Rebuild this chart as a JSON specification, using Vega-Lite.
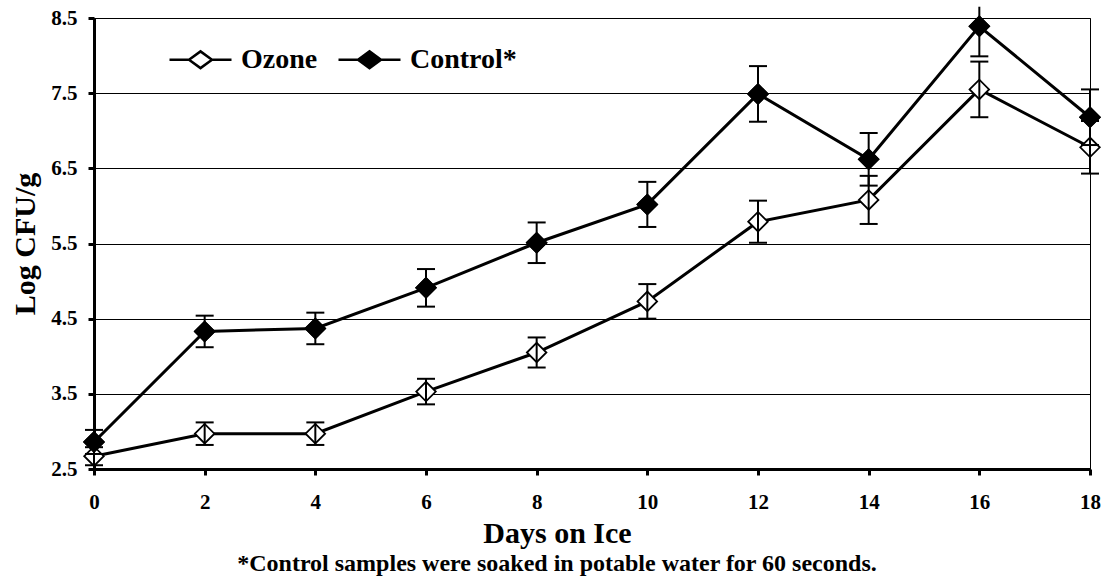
{
  "$schema": "https://vega.github.io/schema/vega-lite/v6.json",
  "width": 996,
  "height": 451,
  "autosize": "none",
  "padding": {"left": 94, "top": 18, "right": 21, "bottom": 115},
  "background": "white",
  "config": {
    "view": {"stroke": "black", "strokeWidth": 1},
    "font": "Liberation Serif",
    "legend": {"padding": 0}
  },
  "title": {
    "text": "*Control samples were soaked in potable water for 60 seconds.",
    "orient": "bottom",
    "anchor": "middle",
    "dx": -35,
    "offset": 4,
    "fontSize": 24,
    "fontWeight": "bold",
    "font": "Liberation Serif",
    "color": "black"
  },
  "data": {
    "values": [
      {"day": 0, "series": "Ozone", "value": 2.67, "lo": 2.55, "hi": 2.79},
      {"day": 2, "series": "Ozone", "value": 2.97, "lo": 2.82, "hi": 3.12},
      {"day": 4, "series": "Ozone", "value": 2.97, "lo": 2.82, "hi": 3.12},
      {"day": 6, "series": "Ozone", "value": 3.53, "lo": 3.36, "hi": 3.70},
      {"day": 8, "series": "Ozone", "value": 4.05, "lo": 3.85, "hi": 4.25},
      {"day": 10, "series": "Ozone", "value": 4.73, "lo": 4.50, "hi": 4.96},
      {"day": 12, "series": "Ozone", "value": 5.79, "lo": 5.51, "hi": 6.07},
      {"day": 14, "series": "Ozone", "value": 6.08, "lo": 5.76, "hi": 6.40},
      {"day": 16, "series": "Ozone", "value": 7.55, "lo": 7.18, "hi": 7.92},
      {"day": 18, "series": "Ozone", "value": 6.78, "lo": 6.43, "hi": 7.13},
      {"day": 0, "series": "Control*", "value": 2.86, "lo": 2.70, "hi": 3.02},
      {"day": 2, "series": "Control*", "value": 4.33, "lo": 4.12, "hi": 4.54},
      {"day": 4, "series": "Control*", "value": 4.37, "lo": 4.16, "hi": 4.58},
      {"day": 6, "series": "Control*", "value": 4.91, "lo": 4.66, "hi": 5.16},
      {"day": 8, "series": "Control*", "value": 5.51, "lo": 5.24, "hi": 5.78},
      {"day": 10, "series": "Control*", "value": 6.02, "lo": 5.72, "hi": 6.32},
      {"day": 12, "series": "Control*", "value": 7.49, "lo": 7.12, "hi": 7.86},
      {"day": 14, "series": "Control*", "value": 6.62, "lo": 6.27, "hi": 6.97},
      {"day": 16, "series": "Control*", "value": 8.39, "lo": 7.99, "hi": 8.65},
      {"day": 18, "series": "Control*", "value": 7.18, "lo": 6.81, "hi": 7.55}
    ]
  },
  "layer": [
    {
      "mark": {"type": "line", "strokeWidth": 3, "color": "black"},
      "encoding": {
        "x": {
          "field": "day", "type": "quantitative",
          "scale": {"domain": [0, 18], "nice": false, "zero": false},
          "axis": {
            "values": [0, 2, 4, 6, 8, 10, 12, 14, 16, 18],
            "domainWidth": 3, "domainColor": "black",
            "tickColor": "black", "tickWidth": 3, "tickSize": 6,
            "labelFontSize": 21, "labelFont": "Liberation Serif", "labelFontWeight": "bold",
            "labelColor": "black", "labelPadding": 16, "labelFlush": false,
            "title": "Days on Ice", "titleFontSize": 30, "titleFont": "Liberation Serif",
            "titleFontWeight": "bold", "titleColor": "black", "titlePadding": 6,
            "titleX": 463,
            "grid": false
          }
        },
        "y": {
          "field": "value", "type": "quantitative",
          "scale": {"domain": [2.5, 8.5], "nice": false, "zero": false},
          "axis": {
            "values": [2.5, 3.5, 4.5, 5.5, 6.5, 7.5, 8.5],
            "format": ".1f",
            "domainWidth": 3, "domainColor": "black",
            "tickColor": "black", "tickWidth": 3, "tickSize": 6,
            "labelFontSize": 21, "labelFont": "Liberation Serif", "labelFontWeight": "bold",
            "labelColor": "black", "labelPadding": 11, "labelFlush": false,
            "title": "Log CFU/g", "titleFontSize": 30, "titleFont": "Liberation Serif",
            "titleFontWeight": "bold", "titleColor": "black", "titlePadding": 10,
            "grid": true, "gridColor": "black", "gridWidth": 1, "gridOpacity": 1
          }
        },
        "detail": {"field": "series"}
      }
    },
    {
      "mark": {"type": "point", "shape": "diamond", "filled": true, "size": 380, "stroke": "black", "strokeWidth": 1.8, "opacity": 1},
      "encoding": {
        "x": {"field": "day", "type": "quantitative"},
        "y": {"field": "value", "type": "quantitative"},
        "fill": {
          "field": "series", "type": "nominal",
          "scale": {"domain": ["Ozone", "Control*"], "range": ["white", "black"]},
          "legend": {
            "orient": "none", "legendX": 74, "legendY": 9,
            "direction": "horizontal", "title": null,
            "symbolType": "M -1 0 L -0.37 0 M 0.37 0 L 1 0 M 0 -0.27 L 0.37 0 L 0 0.27 L -0.37 0 Z",
            "symbolSize": 3844, "symbolStrokeColor": "black", "symbolStrokeWidth": 2.5,
            "symbolOpacity": 1,
            "labelFontSize": 28, "labelFont": "Liberation Serif", "labelFontWeight": "bold",
            "labelColor": "black", "labelOffset": 8, "columnPadding": 15
          }
        }
      }
    },
    {
      "mark": {"type": "rule", "strokeWidth": 2, "color": "black"},
      "encoding": {
        "x": {"field": "day", "type": "quantitative"},
        "y": {"field": "lo", "type": "quantitative"},
        "y2": {"field": "hi"}
      }
    },
    {
      "mark": {"type": "tick", "orient": "horizontal", "size": 18, "thickness": 2, "color": "black", "opacity": 1},
      "encoding": {
        "x": {"field": "day", "type": "quantitative"},
        "y": {"field": "lo", "type": "quantitative"}
      }
    },
    {
      "transform": [{"filter": "datum.day != 16 || datum.series != 'Control*'"}],
      "mark": {"type": "tick", "orient": "horizontal", "size": 18, "thickness": 2, "color": "black", "opacity": 1},
      "encoding": {
        "x": {"field": "day", "type": "quantitative"},
        "y": {"field": "hi", "type": "quantitative"}
      }
    },
    {
      "transform": [{"filter": "datum.series == 'Control*'"}],
      "mark": {"type": "point", "shape": "diamond", "filled": true, "size": 380, "fill": "black", "stroke": "black", "strokeWidth": 1.8, "opacity": 1},
      "encoding": {
        "x": {"field": "day", "type": "quantitative"},
        "y": {"field": "value", "type": "quantitative"}
      }
    }
  ]
}
